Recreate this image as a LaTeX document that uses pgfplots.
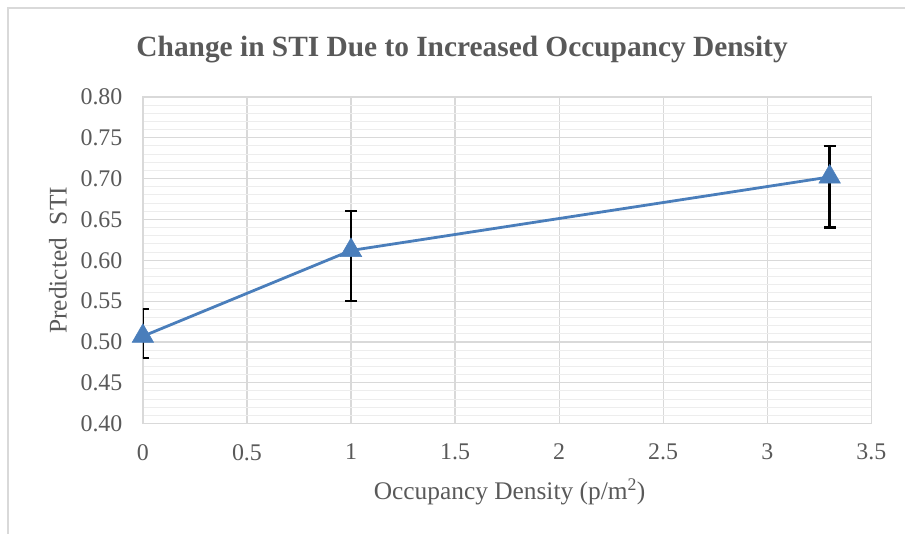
\documentclass[border=0pt]{standalone}
\usepackage{pgfplots}
\pgfplotsset{compat=1.18}
\usepackage{fontspec}
\setmainfont{Liberation Serif}
\definecolor{txt}{HTML}{595959}
\definecolor{major}{HTML}{D9D9D9}
\definecolor{minor}{HTML}{EDEDED}
\definecolor{ser}{HTML}{4A7EBB}
\begin{document}
\begin{tikzpicture}[x=1bp,y=1bp]
\path (0,0) rectangle (906,534);
\draw[major, line width=1.5bp] (8,0) -- (8,526) -- (906,526);
\begin{axis}[
  at={(143bp,110bp)}, anchor=south west,
  scale only axis, width=729bp, height=327bp,
  xmin=0, xmax=3.5, ymin=0.40, ymax=0.80,
  xtick={0,0.5,1,1.5,2,2.5,3,3.5},
  ytick={0.40,0.45,0.50,0.55,0.60,0.65,0.70,0.75,0.80},
  minor ytick={0.41,0.42,0.43,0.44,0.46,0.47,0.48,0.49,0.51,0.52,0.53,0.54,0.56,0.57,0.58,0.59,0.61,0.62,0.63,0.64,0.66,0.67,0.68,0.69,0.71,0.72,0.73,0.74,0.76,0.77,0.78,0.79},
  xticklabels={0,0.5,1,1.5,2,2.5,3,3.5},
  yticklabels={0.40,0.45,0.50,0.55,0.60,0.65,0.70,0.75,0.80},
  /pgf/number format/assume math mode=true,
  ticklabel style={font=\fontsize{24}{26}\selectfont, text=txt},
  tick style={draw=none},
  grid=both,
  major grid style={major, line width=1.2bp},
  minor grid style={minor, line width=1bp},
  axis line style={major, line width=1.5bp},
  xtick pos=bottom, ytick pos=left,
  xticklabel shift=17bp, yticklabel shift=17bp,
  xlabel={Occupancy Density (p/m\textsuperscript{2})},
  ylabel={Predicted\ \ STI},
  label style={font=\fontsize{25.5}{27}\selectfont, text=txt},
  xlabel style={at={(rel axis cs:0.5,0)}, anchor=center, yshift=-68bp, xshift=2.5bp},
  ylabel style={at={(rel axis cs:0,0.5)}, anchor=center, yshift=85bp},
  title={\textbf{Change in STI Due to Increased Occupancy Density}},
  title style={font=\fontsize{29.5}{31}\selectfont, text=txt, at={(rel axis cs:0.5,1)}, anchor=center, yshift=41bp, xshift=-45bp},
]
\addplot[ser, line width=2.8bp, mark=triangle*, mark size=12.5bp,
  mark options={fill=ser, draw=ser, line width=0.5bp},
  error bars/.cd, y dir=both, y explicit,
  error bar style={black, line width=2.4bp},
  error mark options={rotate=90, mark size=6bp, line width=2.4bp, black}]
coordinates {
 (0,0.507) += (0,0.033) -= (0,0.027)
 (1,0.612) += (0,0.048) -= (0,0.062)
 (3.3,0.702) += (0,0.038) -= (0,0.062)
};
\end{axis}
\end{tikzpicture}
\end{document}
